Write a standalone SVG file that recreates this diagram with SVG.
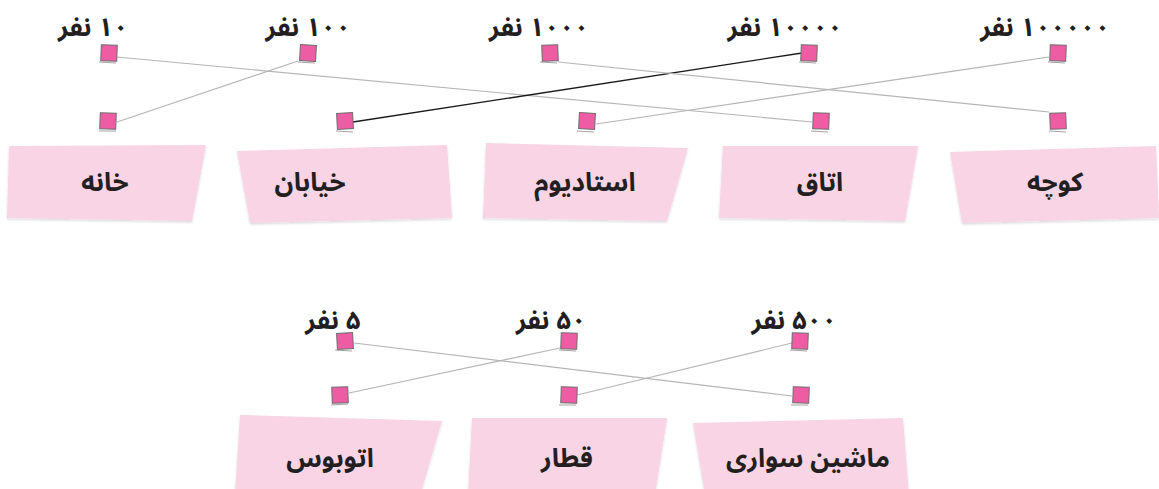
<svg xmlns="http://www.w3.org/2000/svg" width="1159" height="489" viewBox="0 0 1159 489">
<defs>
<filter id="sh" x="-5%" y="-5%" width="110%" height="115%">
<feDropShadow dx="0" dy="1.5" stdDeviation="1.2" flood-color="#000" flood-opacity="0.15"/>
</filter>
</defs>
<style>
.lbl{font-family:"Noto Sans Arabic","Noto Naskh Arabic","DejaVu Sans",sans-serif;font-weight:bold;font-size:26px;fill:#231f20;text-anchor:middle;direction:rtl}
.box{fill:#f8d4e4;filter:url(#sh)}
.sq{fill:#ee5ca3;stroke:#6d6d6d;stroke-width:1}
.sk{fill:none;stroke:#8a8a8a;stroke-width:0.8}
.ln{stroke:#b5b5b5;stroke-width:1.2;fill:none}
.lnk{stroke:#1a1a1a;stroke-width:1.4;fill:none}
</style>
<rect width="1159" height="489" fill="#fff"/>
<g id="connectors">
<line class="ln" x1="117" y1="57" x2="812" y2="122"/>
<line class="ln" x1="298" y1="61" x2="117" y2="122"/>
<line class="lnk" x1="353" y1="122" x2="802" y2="53"/>
<line class="ln" x1="558" y1="62" x2="1049" y2="112"/>
<line class="ln" x1="1049" y1="57" x2="596" y2="124"/>
<line class="ln" x1="354" y1="343" x2="792" y2="396"/>
<line class="ln" x1="560" y1="348" x2="349" y2="393"/>
<line class="ln" x1="792" y1="343" x2="577" y2="395"/>
</g>
<g id="n-10"><text class="lbl" x="93" y="36">۱۰ نفر</text><rect class="sq" x="101" y="45" width="16" height="16" transform="rotate(2 109 53)"/><path class="sk" d="M99 62 L116 63"/></g>
<g id="n-100"><text class="lbl" x="308" y="36">۱۰۰ نفر</text><rect class="sq" x="300" y="45" width="16" height="16" transform="rotate(3 308 53)"/><path class="sk" d="M298 62 L315 63"/></g>
<g id="n-1000"><text class="lbl" x="539" y="36">۱۰۰۰ نفر</text><rect class="sq" x="542" y="45" width="16" height="16" transform="rotate(-2 550 53)"/><path class="sk" d="M540 62 L557 63"/></g>
<g id="n-10000"><text class="lbl" x="785" y="36">۱۰۰۰۰ نفر</text><rect class="sq" x="801" y="45" width="16" height="16" transform="rotate(2 809 53)"/><path class="sk" d="M799 62 L816 63"/></g>
<g id="n-100000"><text class="lbl" x="1045" y="36">۱۰۰۰۰۰ نفر</text><rect class="sq" x="1050" y="45" width="16" height="16" transform="rotate(2 1058 53)"/><path class="sk" d="M1048 62 L1065 63"/></g>

<g id="p-khane"><rect class="sq" x="100" y="113" width="16" height="16" transform="rotate(2 108 121)"/><path class="sk" d="M99 131 L116 131"/></g>
<g id="p-khiaban"><rect class="sq" x="337" y="113" width="16" height="16" transform="rotate(-3 345 121)"/><path class="sk" d="M336 131 L353 132"/></g>
<g id="p-stadium"><rect class="sq" x="579" y="113" width="16" height="16" transform="rotate(3 587 121)"/><path class="sk" d="M577 131 L594 132"/></g>
<g id="p-otagh"><rect class="sq" x="813" y="113" width="16" height="16" transform="rotate(2 821 121)"/><path class="sk" d="M811 131 L828 132"/></g>
<g id="p-koche"><rect class="sq" x="1050" y="113" width="16" height="16" transform="rotate(-2 1058 121)"/><path class="sk" d="M1049 131 L1066 132"/></g>

<g id="box-khane"><polygon class="box" points="9,146 206,145 192,221 7,218"/><text class="lbl" x="105" y="191">خانه</text></g>
<g id="box-khiaban"><polygon class="box" points="237,151 447,145 452,218 250,223"/><text class="lbl" x="310" y="191">خیابان</text></g>
<g id="box-stadium"><polygon class="box" points="486,143 688,148 667,221 483,218"/><text class="lbl" x="585" y="191">استادیوم</text></g>
<g id="box-otagh"><polygon class="box" points="723,146 918,146 905,221 719,218"/><text class="lbl" x="820" y="191">اتاق</text></g>
<g id="box-koche"><polygon class="box" points="950,152 1156,146 1159,218 962,223"/><text class="lbl" x="1055" y="191">کوچه</text></g>

<g id="n-5"><text class="lbl" x="333" y="329">۵ نفر</text><rect class="sq" x="337" y="333" width="16" height="16" transform="rotate(-3 345 341)"/><path class="sk" d="M335 350 L352 351"/></g>
<g id="n-50"><text class="lbl" x="551" y="329">۵۰ نفر</text><rect class="sq" x="561" y="333" width="16" height="16" transform="rotate(2 569 341)"/><path class="sk" d="M559 350 L576 351"/></g>
<g id="n-500"><text class="lbl" x="794" y="329">۵۰۰ نفر</text><rect class="sq" x="792" y="333" width="16" height="16" transform="rotate(2 800 341)"/><path class="sk" d="M790 350 L807 351"/></g>

<g id="p-bus"><rect class="sq" x="332" y="387" width="16" height="16" transform="rotate(-2 340 395)"/><path class="sk" d="M331 405 L348 404"/></g>
<g id="p-train"><rect class="sq" x="561" y="387" width="16" height="16" transform="rotate(2 569 395)"/><path class="sk" d="M559 405 L576 405"/></g>
<g id="p-car"><rect class="sq" x="793" y="387" width="16" height="16" transform="rotate(2 801 395)"/><path class="sk" d="M791 405 L808 405"/></g>

<g id="box-bus"><polygon class="box" points="240,415 442,421 420,495 235,495"/><text class="lbl" x="330" y="467">اتوبوس</text></g>
<g id="box-train"><polygon class="box" points="472,418 667,418 655,495 468,495"/><text class="lbl" x="567" y="467">قطار</text></g>
<g id="box-car"><polygon class="box" points="693,423 903,418 909,495 705,495"/><text class="lbl" x="808" y="467">ماشین سواری</text></g>
</svg>
